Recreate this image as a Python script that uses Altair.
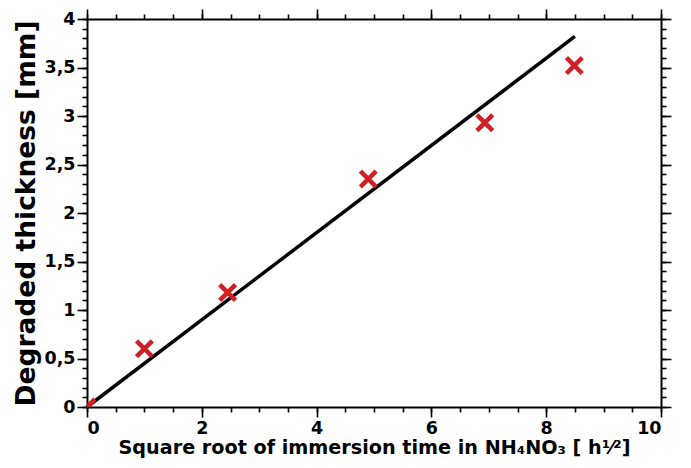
import altair as alt
import pandas as pd

# measured data (sqrt of immersion time in h, degraded thickness in mm)
sqrt_time = [0.0, 1.0, 2.45, 4.9, 6.93, 8.49]
thickness = [0.0, 0.6, 1.18, 2.35, 2.93, 3.52]

# linear fit line end points
fit_x = [0.0, 8.5]
fit_y = [0.0, 3.82]

x_major = [0, 2, 4, 6, 8, 10]
x_minor = [i * 0.5 for i in range(21)]
y_major = [0, 0.5, 1, 1.5, 2, 2.5, 3, 3.5, 4]
y_minor = [i * 0.1 for i in range(41)]

pts = pd.DataFrame({"x": sqrt_time, "y": thickness})
fit = pd.DataFrame({"x": fit_x, "y": fit_y})

FONT = "DejaVu Sans"
xs = alt.Scale(domain=[0, 10], nice=False, zero=False)
ys = alt.Scale(domain=[0, 4], nice=False, zero=False)

X_TITLE = "Square root of immersion time in NH\u2084NO\u2083 [ h\u00b9\u2044\u00b2]"
Y_TITLE = "Degraded thickness [mm]"


def ax(orient, values, size, labels=False, title=None, domain=False, **kw):
    return alt.Axis(
        orient=orient, values=values, tickSize=size, labels=labels, title=title,
        domain=domain, domainColor="black", domainWidth=2, tickColor="black",
        tickWidth=1.6, grid=False, **kw)


lbl = dict(labelFont=FONT, labelFontWeight="bold", labelFontSize=17.5,
           labelColor="black", labelPadding=2,
           titleFont=FONT, titleFontWeight="bold", titleColor="black")

line = alt.Chart(fit).mark_line(color="black", strokeWidth=3.5).encode(
    x=alt.X("x:Q", scale=xs,
            axis=ax("bottom", x_major, 10, labels=True, title=X_TITLE, domain=True,
                    titleFontSize=19.2, titlePadding=2, **lbl)),
    y=alt.Y("y:Q", scale=ys,
            axis=ax("left", y_major, 10, labels=True, title=Y_TITLE, domain=True,
                    titleFontSize=26.5, titlePadding=3,
                    labelExpr="replace(format(datum.value, '~g'), '.', ',')", **lbl)),
)

points = alt.Chart(pts).mark_point(
    shape="M-1,-1L1,1M1,-1L-1,1", size=250, filled=False, strokeWidth=4.5,
    color="#d11f26", opacity=1, clip=True,
).encode(
    x=alt.X("x:Q", scale=xs, axis=ax("bottom", x_minor, 5)),
    y=alt.Y("y:Q", scale=ys, axis=ax("left", y_minor, 5)),
)

top_major = alt.Chart(fit).mark_line(opacity=0).encode(
    x=alt.X("x:Q", scale=xs, axis=ax("top", x_major, 10, domain=True)),
    y=alt.Y("y:Q", scale=ys, axis=ax("right", y_major, 10, domain=True)),
)

top_minor = alt.Chart(fit).mark_line(opacity=0).encode(
    x=alt.X("x:Q", scale=xs, axis=ax("top", x_minor, 5)),
    y=alt.Y("y:Q", scale=ys, axis=ax("right", y_minor, 5)),
)

chart = alt.layer(line, points, top_major, top_minor).resolve_axis(
    x="independent", y="independent"
).properties(
    width=574, height=388,
    padding={"left": 5, "top": 0, "right": 0, "bottom": 0},
).configure_view(stroke=None).configure(background="white")

chart.save("out.html", embed_options={"renderer": "svg", "actions": False})
